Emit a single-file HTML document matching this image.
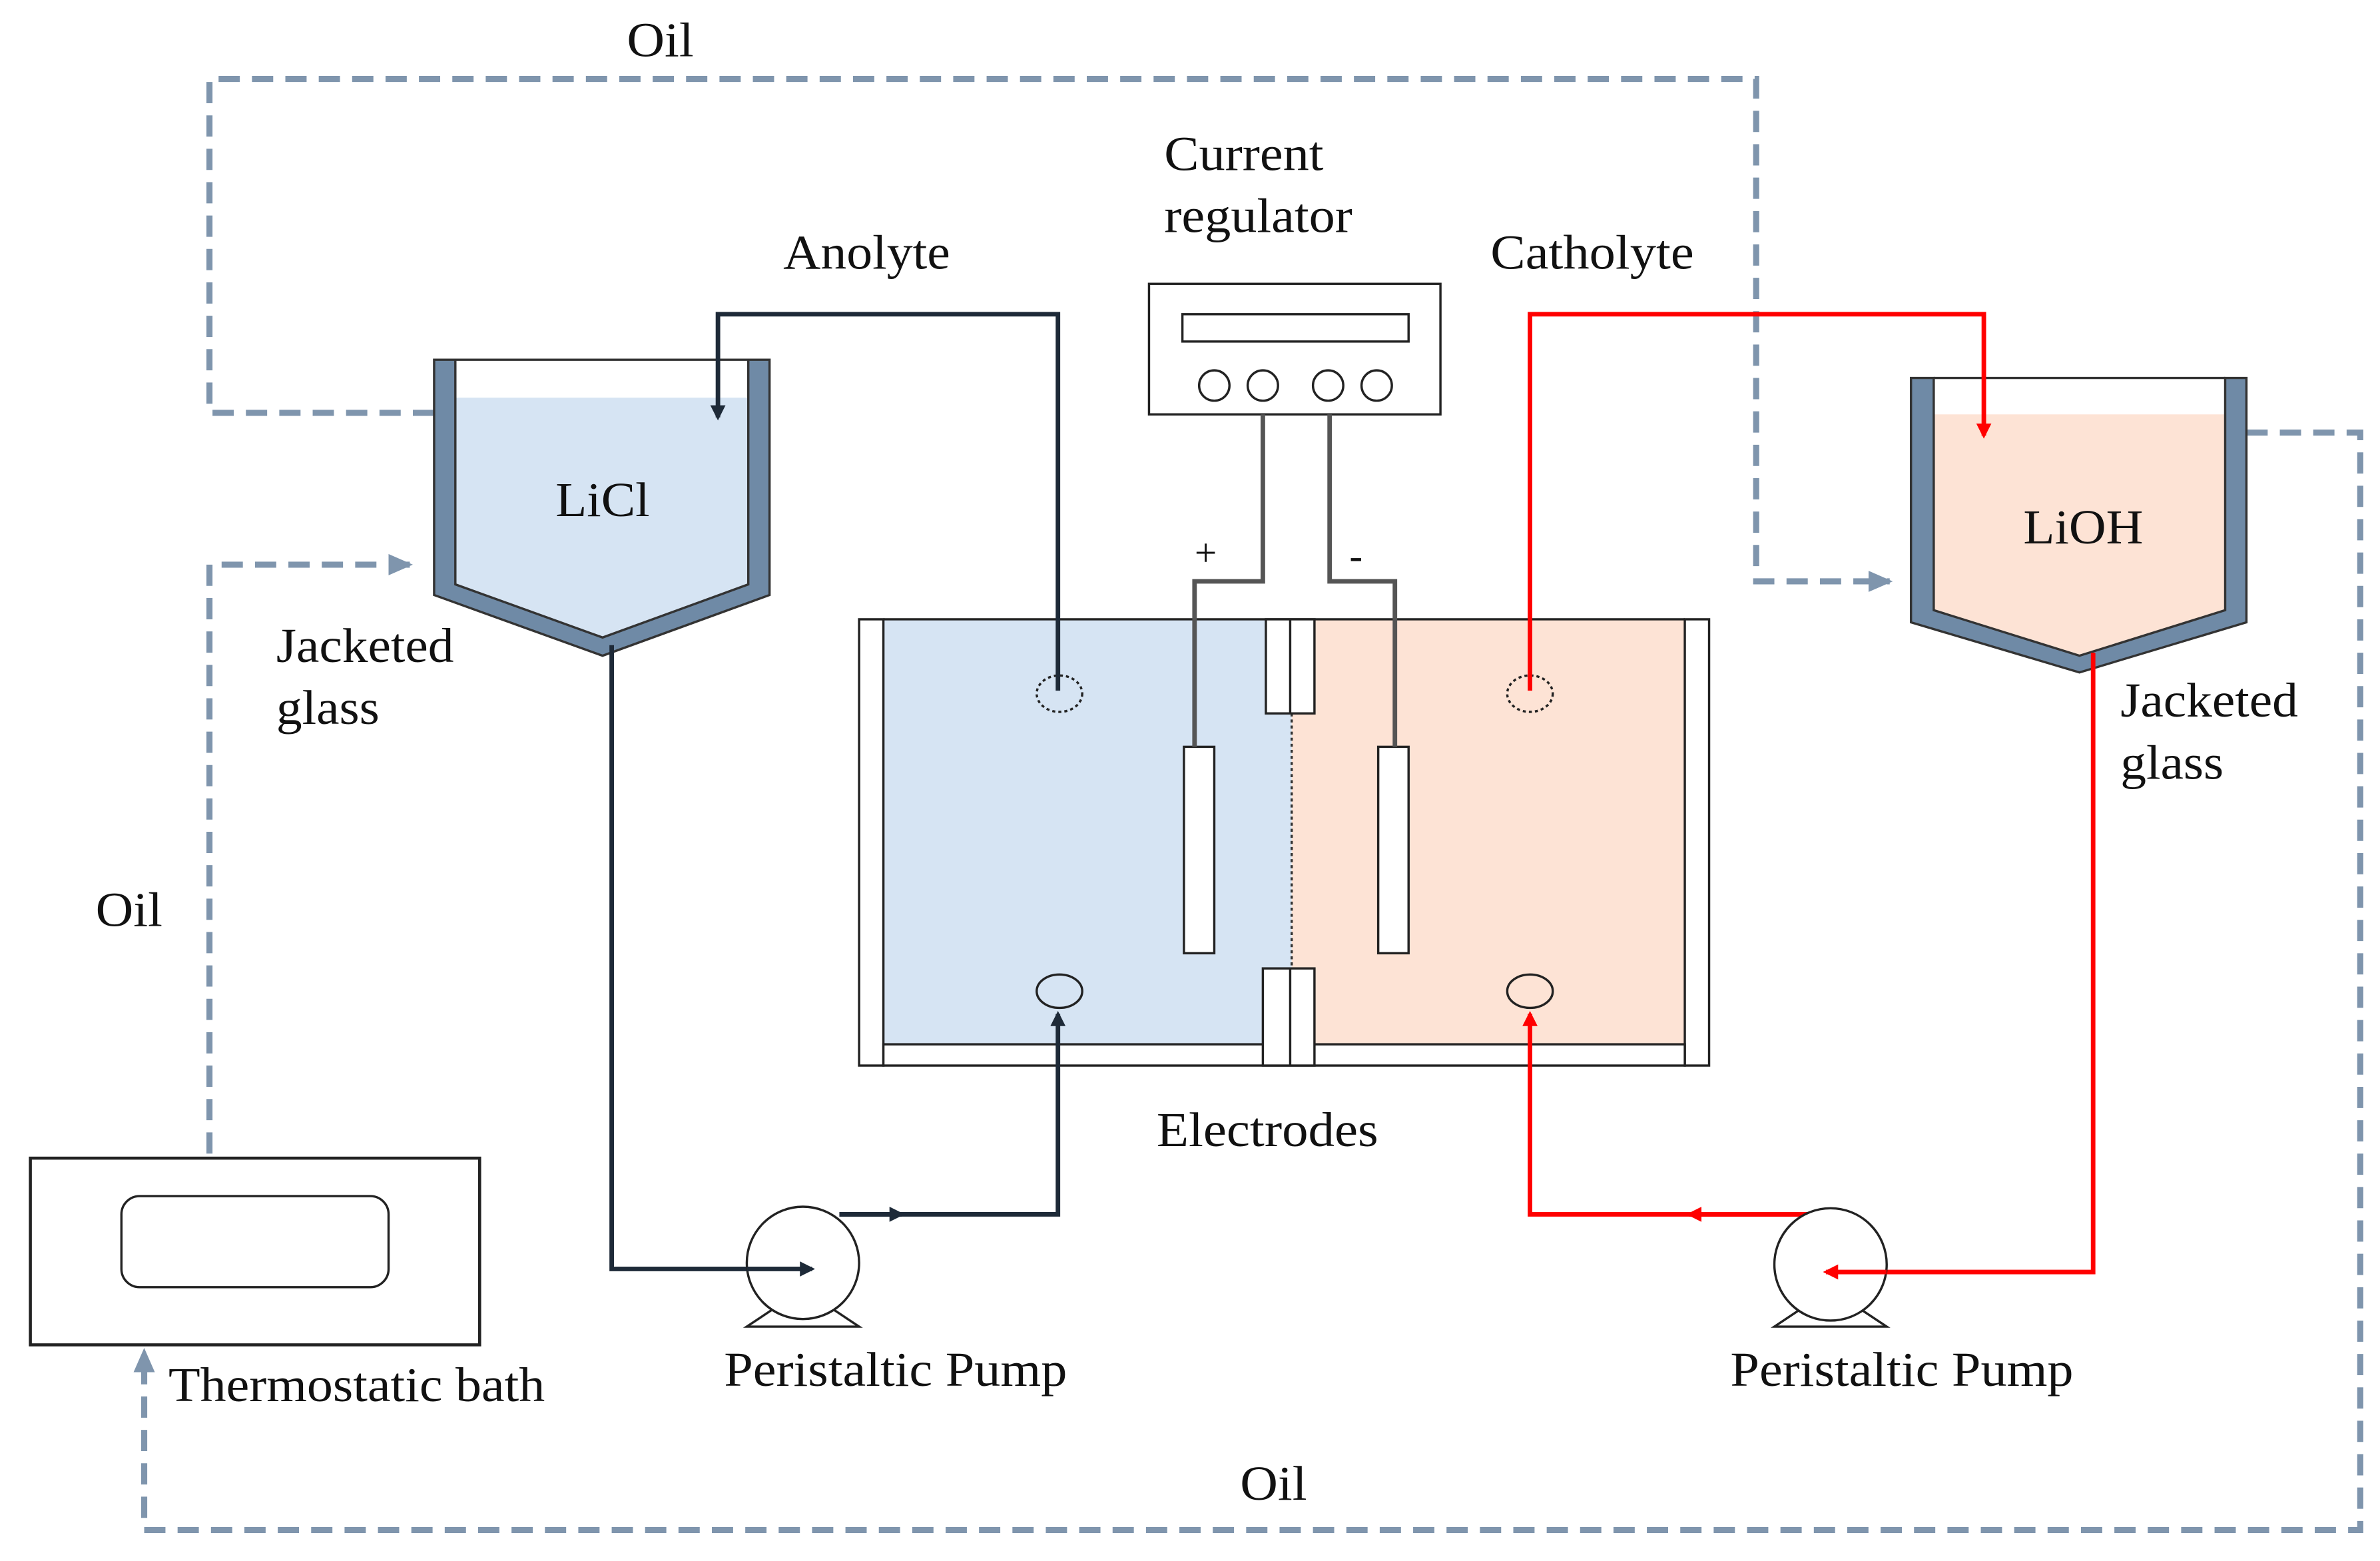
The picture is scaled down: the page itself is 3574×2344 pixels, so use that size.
<!DOCTYPE html>
<html><head><meta charset="utf-8"><style>html,body{margin:0;padding:0;background:#fff}svg{display:block}</style></head><body>
<svg xmlns="http://www.w3.org/2000/svg" width="3574" height="2344" viewBox="0 0 1568 1028.4" preserveAspectRatio="none" font-family="Liberation Serif, serif" font-size="32">
<defs>
<marker id="ad" markerWidth="10" markerHeight="10" refX="8" refY="5" orient="auto" markerUnits="userSpaceOnUse"><path d="M0,0 L10,5 L0,10 z" fill="#1e2a38"/></marker>
<marker id="ar" markerWidth="10" markerHeight="10" refX="8" refY="5" orient="auto" markerUnits="userSpaceOnUse"><path d="M0,0 L10,5 L0,10 z" fill="#ff0000"/></marker>
<marker id="ag" markerWidth="16" markerHeight="14" refX="14" refY="7" orient="auto" markerUnits="userSpaceOnUse"><path d="M0,0 L16,7 L0,14 z" fill="#7f95ad"/></marker>
</defs>
<g fill="none" stroke="#7f95ad" stroke-width="4" stroke-dasharray="14,8">
<polyline points="286,272 138,272 138,52 1157,52 1157,383 1245,383" marker-end="url(#ag)"/>
<polyline points="138,760 138,372 270,372" marker-end="url(#ag)"/>
<polyline points="1480,285 1555,285 1555,1008 95,1008 95,890" marker-end="url(#ag)"/>
</g>
<polygon points="300,262 493,262 493,385 397,420 300,385" fill="#d6e4f3"/>
<path d="M286,237 L286,392 L397,432 L507,392 L507,237 L493,237 L493,385 L397,420 L300,385 L300,237 Z" fill="#6f8aa6" stroke="#333" stroke-width="1.5"/>
<line x1="300" y1="237" x2="493" y2="237" stroke="#333" stroke-width="1.5"/>
<polygon points="1274,273 1466,273 1466,402 1370,432 1274,402" fill="#fde3d5"/>
<path d="M1259,249 L1259,410 L1370,443 L1480,410 L1480,249 L1466,249 L1466,402 L1370,432 L1274,402 L1274,249 Z" fill="#6f8aa6" stroke="#333" stroke-width="1.5"/>
<line x1="1274" y1="249" x2="1466" y2="249" stroke="#333" stroke-width="1.5"/>
<rect x="582" y="408" width="269" height="280" fill="#d6e4f3"/>
<rect x="851" y="408" width="259" height="280" fill="#fde3d5"/>
<rect x="566" y="408" width="16" height="294" fill="#fff" stroke="#222" stroke-width="1.5"/>
<rect x="1110" y="408" width="16" height="294" fill="#fff" stroke="#222" stroke-width="1.5"/>
<rect x="582" y="688" width="528" height="14" fill="#fff" stroke="#222" stroke-width="1.5"/>
<line x1="582" y1="408" x2="1110" y2="408" stroke="#222" stroke-width="1.5"/>
<line x1="851" y1="470" x2="851" y2="638" stroke="#333" stroke-width="1.5" stroke-dasharray="2,2"/>
<rect x="834" y="408" width="32" height="62" fill="#fff" stroke="#222" stroke-width="1.5"/>
<line x1="850" y1="408" x2="850" y2="470" stroke="#222" stroke-width="1.5"/>
<rect x="832" y="638" width="34" height="64" fill="#fff" stroke="#222" stroke-width="1.5"/>
<line x1="850" y1="638" x2="850" y2="702" stroke="#222" stroke-width="1.5"/>
<rect x="780" y="492" width="20" height="136" fill="#fff" stroke="#222" stroke-width="1.5"/>
<rect x="908" y="492" width="20" height="136" fill="#fff" stroke="#222" stroke-width="1.5"/>
<rect x="757" y="187" width="192" height="86" fill="#fff" stroke="#222" stroke-width="1.5"/>
<rect x="779" y="207" width="149" height="18" fill="#fff" stroke="#222" stroke-width="1.5"/>
<g fill="#fff" stroke="#222" stroke-width="1.5"><circle cx="800" cy="254" r="10"/><circle cx="832" cy="254" r="10"/><circle cx="875" cy="254" r="10"/><circle cx="907" cy="254" r="10"/></g>
<g fill="none" stroke="#555" stroke-width="3">
<polyline points="832,273 832,383 787,383 787,492"/>
<polyline points="876,273 876,383 919,383 919,492"/>
</g>
<g fill="none" stroke="#222" stroke-width="1.5">
<ellipse cx="698" cy="457" rx="15" ry="12" stroke-dasharray="2,2"/>
<ellipse cx="1008" cy="457" rx="15" ry="12" stroke-dasharray="2,2"/>
<ellipse cx="698" cy="653" rx="15" ry="11"/>
<ellipse cx="1008" cy="653" rx="15" ry="11"/>
</g>
<g fill="none" stroke="#1e2a38" stroke-width="3">
<polyline points="697,455 697,207 473,207 473,275" marker-end="url(#ad)"/>
<polyline points="403,425 403,836 535,836" marker-end="url(#ad)"/>
<polyline points="553,800 697,800 697,668" marker-end="url(#ad)"/>
<line x1="553" y1="800" x2="594" y2="800" marker-end="url(#ad)"/>
</g>
<g fill="none" stroke="#ff0000" stroke-width="3">
<polyline points="1008,455 1008,207 1307,207 1307,287" marker-end="url(#ar)"/>
<polyline points="1379,430 1379,838 1203,838" marker-end="url(#ar)"/>
<polyline points="1215,800 1008,800 1008,668" marker-end="url(#ar)"/>
<line x1="1215" y1="800" x2="1113" y2="800" marker-end="url(#ar)"/>
</g>
<g fill="#fff" stroke="#222" stroke-width="1.5">
<polygon points="510,862 548,862 566,874 492,874"/>
<circle cx="529" cy="832" r="37"/>
<polygon points="1187,862 1225,862 1243,874 1169,874"/>
<circle cx="1206" cy="833" r="37"/>
</g>
<g fill="none" stroke="#1e2a38" stroke-width="3"><line x1="492" y1="836" x2="535" y2="836" marker-end="url(#ad)"/></g>
<g fill="none" stroke="#ff0000" stroke-width="3"><line x1="1243" y1="838" x2="1203" y2="838" marker-end="url(#ar)"/></g>
<rect x="20" y="763" width="296" height="123" fill="#fff" stroke="#222" stroke-width="2"/>
<rect x="80" y="788" width="176" height="60" rx="12" fill="#fff" stroke="#222" stroke-width="1.5"/>
<g fill="#111" lengthAdjust="spacingAndGlyphs">
<text x="413" y="37" textLength="44" lengthAdjust="spacingAndGlyphs">Oil</text>
<text x="767" y="112" textLength="105" lengthAdjust="spacingAndGlyphs">Current</text>
<text x="767" y="153" textLength="124" lengthAdjust="spacingAndGlyphs">regulator</text>
<text x="516" y="177" textLength="110" lengthAdjust="spacingAndGlyphs">Anolyte</text>
<text x="982" y="177" textLength="134" lengthAdjust="spacingAndGlyphs">Catholyte</text>
<text x="366" y="340" textLength="62" lengthAdjust="spacingAndGlyphs">LiCl</text>
<text x="1333" y="358" textLength="79" lengthAdjust="spacingAndGlyphs">LiOH</text>
<text x="182" y="436" textLength="117" lengthAdjust="spacingAndGlyphs">Jacketed</text>
<text x="182" y="477" textLength="68" lengthAdjust="spacingAndGlyphs">glass</text>
<text x="1397" y="472" textLength="117" lengthAdjust="spacingAndGlyphs">Jacketed</text>
<text x="1397" y="513" textLength="68" lengthAdjust="spacingAndGlyphs">glass</text>
<text x="63" y="610" textLength="44" lengthAdjust="spacingAndGlyphs">Oil</text>
<text x="787" y="373" font-size="26">+</text>
<text x="889" y="375" font-size="26">-</text>
<text x="762" y="755" textLength="146" lengthAdjust="spacingAndGlyphs">Electrodes</text>
<text x="477" y="913" textLength="226" lengthAdjust="spacingAndGlyphs">Peristaltic Pump</text>
<text x="1140" y="913" textLength="226" lengthAdjust="spacingAndGlyphs">Peristaltic Pump</text>
<text x="111" y="923" textLength="248" lengthAdjust="spacingAndGlyphs">Thermostatic bath</text>
<text x="817" y="988" textLength="44" lengthAdjust="spacingAndGlyphs">Oil</text>
</g>
</svg>
</body></html>
